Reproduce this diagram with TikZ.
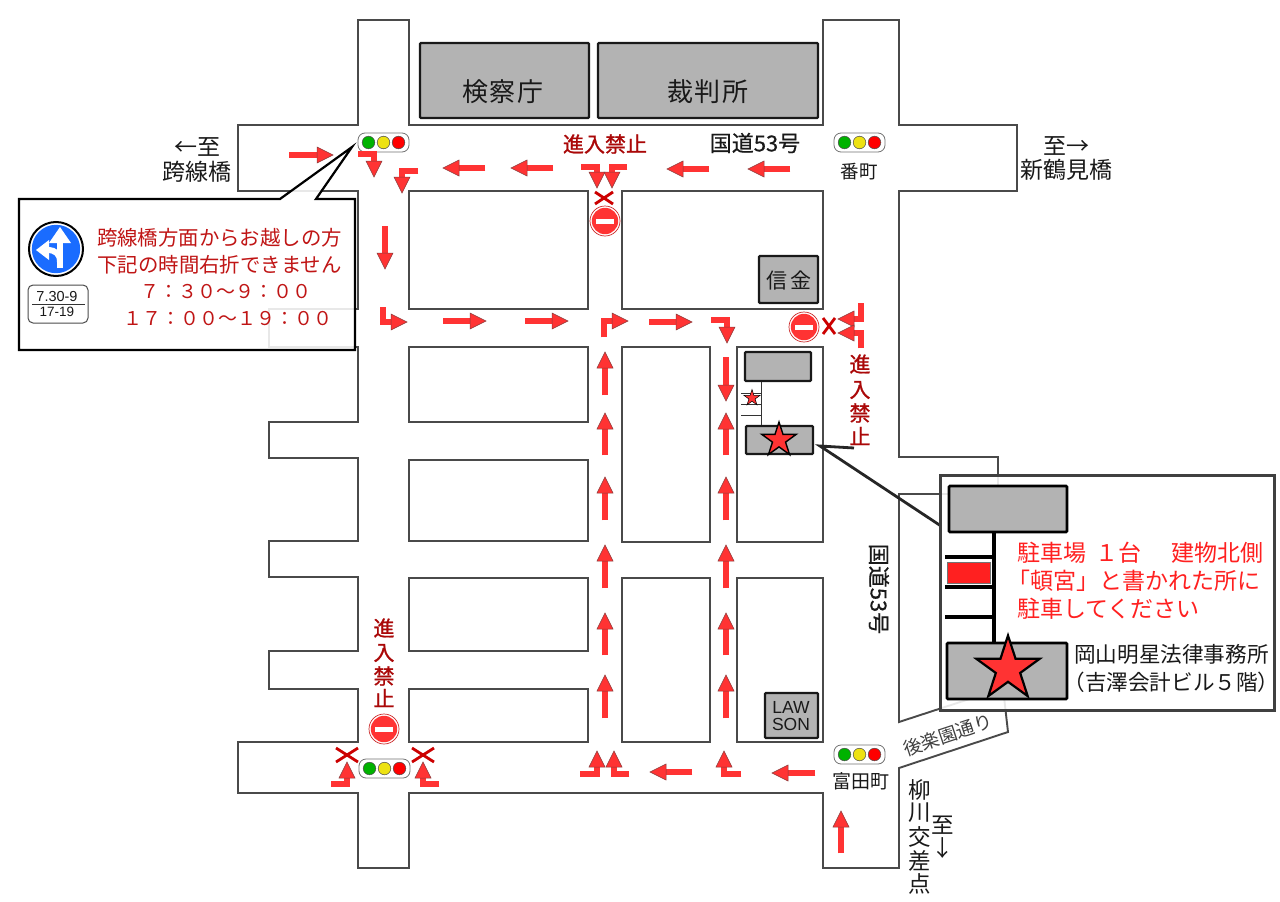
\documentclass[tikz,border=0pt]{standalone}
\usepackage{fontspec}
\setmainfont{Noto Sans CJK JP}
\newfontfamily\latinf{Liberation Sans}
\newfontfamily\medf[FakeBold=0.5]{Noto Sans CJK JP}
\newfontfamily\semif[FakeBold=1.1]{Noto Sans CJK JP}
\usetikzlibrary{shapes.geometric}
\definecolor{roadline}{HTML}{4A4A4A}
\definecolor{bldg}{HTML}{B3B3B3}
\definecolor{arrowred}{HTML}{FF3333}
\definecolor{arrowedge}{HTML}{8A3A3A}
\definecolor{darkred}{HTML}{AA0808}
\definecolor{crossred}{HTML}{CC0000}
\definecolor{noteRed}{HTML}{C01515}
\definecolor{brightred}{HTML}{FF2020}
\definecolor{signblue}{HTML}{1A6CFF}
\newcommand\fs[1]{\fontsize{#1}{#1}\selectfont}
\tikzset{
  road/.style={draw=roadline,line width=1.9,fill=white,line join=miter},
  block/.style={draw=roadline,line width=1.9,fill=white},
  building/.style={draw=black!90,line width=2.2,fill=bldg,rounded corners=1},
  shaftst/.style={draw=arrowedge,double=arrowred,double distance=5.6,line width=.5,line join=miter},
  headst/.style={draw=arrowedge,fill=arrowred,line width=.5,line join=miter},
  lab/.style={inner sep=0,outer sep=0,text=black!90,align=center},
  redlab/.style={inner sep=0,outer sep=0,text=darkred,font=\semif\fs{21}},
  notelab/.style={inner sep=0,outer sep=0,text=noteRed,font=\fs{20.4}},
  notenum/.style={inner sep=0,outer sep=0,text=noteRed,font=\fs{19}},
  parklab/.style={inner sep=0,outer sep=0,text=brightred,font=\fs{23},anchor=west},
  xmark/.style={draw=crossred,line width=2.8},
  starmark/.style={star,star points=5,star point ratio=2.618,draw=black,fill=arrowred,inner sep=0,line join=miter},
  lamp/.style={draw=black!70,line width=.5},
  panel/.style={fill=white,fill opacity=.88,line join=miter}
}
% shaft path, tip x,y, angle
\newcommand\arw[3]{\draw[shaftst] #1;\draw[headst,shift={(#2)},rotate=#3] (0,0)--(-16,8)--(-16,-8)--cycle;}
\newcommand\lights[2]{%
  \begin{scope}[shift={(#1,#2)}]
    \draw[draw=black!55,line width=.8,fill=white,rounded corners=7] (-25.5,-9.5) rectangle (25.5,9.5);
    \filldraw[fill=green!70!black,lamp] (-15,0) circle (6.3);
    \filldraw[fill=yellow!92!black,lamp] (0,0) circle (6.3);
    \filldraw[fill=red,lamp] (15,0) circle (6.3);
  \end{scope}}
\newcommand\noentry[2]{%
  \begin{scope}[shift={(#1,#2)}]
    \draw[draw=arrowred!80!black,line width=.7,fill=white] (0,0) circle (15);
    \fill[arrowred] (0,0) circle (13.2);
    \fill[white] (-9,-2.5) rectangle (9,2.5);
  \end{scope}}
\newcommand\crossx[4]{\draw[xmark] (#1-#3,#2-#4)--(#1+#3,#2+#4) (#1-#3,#2+#4)--(#1+#3,#2-#4);}
\begin{document}
\begin{tikzpicture}[x=1pt,y=-1pt]
\useasboundingbox (0,0) rectangle (1280,902);
\fill[white] (0,0) rectangle (1280,902);
% roads
\draw[road] (358,20)--(409,20)--(409,125)--(823,125)--(823,20)--(899,20)--(899,125)--(1017,125)--(1017,191)--(899,191)--(899,457)--(998,457)--(998,494)--(899,494)--(899,722)--(1003,688)--(1008,732)--(899,768)--(899,868)--(823,868)--(823,793)--(409,793)--(409,868)--(358,868)--(358,793)--(238,793)--(238,742)--(358,742)--(358,689)--(269,689)--(269,651)--(358,651)--(358,577)--(269,577)--(269,541)--(358,541)--(358,458)--(269,458)--(269,422)--(358,422)--(358,347)--(269,347)--(269,309)--(358,309)--(358,191)--(238,191)--(238,125)--(358,125)--cycle;
% blocks
\foreach \xa/\ya/\xb/\yb in {409/191/588/309,622/191/823/309,409/347/588/422,622/347/710/542,737/347/823/542,409/460/588/541,409/578/588/651,409/689/588/742,622/578/710/742,737/578/823/742}
  \draw[block] (\xa,\ya) rectangle (\xb,\yb);
% buildings
\draw[building] (420,43) rectangle (589,118);
\draw[building] (598,43) rectangle (818,118);
\draw[building] (759,256) rectangle (818,303);
\draw[building] (745,352) rectangle (811,381);
\draw[building] (746,426) rectangle (813,454);
\draw[building] (765,693) rectangle (818,738);
\node[lab,font=\fs{26}] (kensatsu) at (503,92) {検\hspace{2pt}察\hspace{2pt}庁};
\node[lab,font=\fs{26}] (saiban) at (708,92) {裁\hspace{2pt}判\hspace{2pt}所};
\node[lab,font=\fs{21}] (shinkin) at (789,281) {信\hspace{4pt}金};
\node[lab,font=\latinf\fs{17.5},align=center] (lawson) at (791,716) {LAW\\[-.5pt]SON};
% small parking sketch
\draw[black!80,line width=1] (761,382)--(761,425) (741,393)--(761,393) (741,404)--(761,404) (741,415)--(761,415);
\node[starmark,minimum size=17,line width=.5] (smallstar) at (752,398) {};
\node[starmark,minimum size=36,line width=1.4] (bigstar) at (779,440) {};
% leader
\coordinate (leadA) at (854,448);
\coordinate (leadB) at (820,446);
\coordinate (leadC) at (941,526);
\draw[black!85,line width=2.8] (leadA)--(leadB)--(leadC);
% traffic lights
\lights{383.5}{142.5}
\lights{859.5}{142.5}
\lights{384.5}{768.5}
\lights{859.5}{754.5}
% arrows
\arw{(289,155)--(317,155)}{333,155}{0}
\arw{(358,154)--(374,154)--(374,162)}{374,177}{-90}
\arw{(418,171)--(402,171)--(402,178)}{402,193}{-90}
\arw{(385,226)--(385,253)}{385,269}{-90}
\arw{(383,307)--(383,322)--(391,322)}{407,322}{0}
\arw{(443,321)--(470,321)}{486,321}{0}
\arw{(525,321)--(552,321)}{568,321}{0}
\arw{(604,337)--(604,321)--(612,321)}{628,321}{0}
\arw{(649,322)--(676,322)}{692,322}{0}
\arw{(711,320)--(727,320)--(727,328)}{727,343}{-90}
\arw{(726,357)--(726,385)}{726,401}{-90}
\arw{(581,167)--(597,167)--(597,173)}{597,188}{-90}
\arw{(627,167)--(612,167)--(612,173)}{612,188}{-90}
\arw{(709,169)--(683,169)}{667,169}{180}
\arw{(790,169)--(764,169)}{748,169}{180}
\arw{(485,168)--(459,168)}{443,168}{180}
\arw{(553,168)--(527,168)}{511,168}{180}
\arw{(861,303)--(861,319)--(853,319)}{838,319}{180}
\arw{(861,348)--(861,333)--(853,333)}{838,333}{180}
\foreach \tp/\bt in {352/395,413/455,477/520,545/588,613/655,675/718}{
  \arw{(605,\bt)--(605,\tp+16)}{605,\tp}{90}}
\foreach \tp/\bt in {413/455,477/520,545/588,613/655,675/718}{
  \arw{(726,\bt)--(726,\tp+16)}{726,\tp}{90}}
\arw{(580,774)--(597,774)--(597,766)}{597,751}{90}
\arw{(629,774)--(614,774)--(614,766)}{614,751}{90}
\arw{(692,772)--(666,772)}{650,772}{180}
\arw{(741,774)--(724,774)--(724,766)}{724,751}{90}
\arw{(815,773)--(788,773)}{772,773}{180}
\arw{(841,853)--(841,827)}{841,811}{90}
\arw{(331,784)--(347,784)--(347,777)}{347,762}{90}
\arw{(439,784)--(423,784)--(423,777)}{423,762}{90}
% crosses and no entry signs
\crossx{347}{755}{11}{7}
\crossx{423}{755}{11}{7}
\crossx{604}{198}{9}{6}
\crossx{829}{326}{6}{8}
\noentry{384}{729}
\noentry{605}{221}
\noentry{804}{327}
% road labels
\node[lab,font=\medf\fs{22}] (n53a) at (755,143) {国道53号};
\node[redlab] (nogo1) at (605,144) {進入禁止};
\node[lab,font=\fs{18.5}] (bancho) at (859,172) {番町};
\node[lab,font=\fs{19}] (tomita) at (861,781) {富田町};
\node[lab,font=\fs{23}] (itaruL) at (197,147) {←至};
\node[lab,font=\fs{23}] (kosen) at (197,172) {跨線橋};
\node[lab,font=\fs{23}] (itaruR) at (1066,146) {至→};
\node[lab,font=\fs{23}] (shintsu) at (1066,170) {新鶴見橋};
\node[lab,font=\medf\fs{22},rotate=-90] (n53b) at (879,589) {国道53号};
\node[lab,font=\fs{18.5},rotate=18.3,text=black!75] (koraku) at (948,735) {後楽園通り};
\node[lab,font=\fs{22.5}] (yn1) at (920,790) {柳};
\node[lab,font=\fs{22.5}] (yn2) at (920,813) {川};
\node[lab,font=\fs{22.5}] (yn3) at (920,837) {交};
\node[lab,font=\fs{22.5}] (yn4) at (920,861) {差};
\node[lab,font=\fs{22.5}] (yn5) at (920,884) {点};
\node[lab,font=\fs{22.5}] (it1) at (943,825) {至};
\node[lab,font=\fs{22.5}] (it2) at (943,848) {↓};
\node[redlab] (r1) at (860,364) {進};
\node[redlab] (r2) at (860,390) {入};
\node[redlab] (r3) at (860,413) {禁};
\node[redlab] (r4) at (860,436) {止};
\node[redlab] (l1) at (384,628) {進};
\node[redlab] (l2) at (384,653) {入};
\node[redlab] (l3) at (384,676) {禁};
\node[redlab] (l4) at (384,698) {止};
% callout 1
\coordinate (tipA) at (352,147);
\draw[panel,draw=black,line width=2.2] (19,199)--(280,199)--(tipA)--(316,199)--(355,199)--(355,350)--(19,350)--cycle;
\draw[draw=black,line width=2,fill=white] (56,249) circle (27);
\fill[signblue] (56,249) circle (24.2);
\draw[white,line width=6.5] (60,268)--(60,241);
\fill[white] (60,227)--(71,243)--(49,243)--cycle;
\draw[white,line width=6] (60,262) .. controls (60,254) and (56,250) .. (47,250);
\fill[white] (36,250)--(49,240)--(49,260)--cycle;
\draw[draw=black!70,line width=1,fill=white,rounded corners=5] (28,285) rectangle (88,323);
\draw[black!80,line width=.8] (32,304)--(85,304);
\node[lab,font=\latinf\fs{14.5}] (plate1) at (57,297) {7.30-9};
\node[lab,font=\latinf\fs{13.5}] (plate2) at (57,312) {17-19};
\node[notelab] (note1) at (219.5,238) {跨線橋方面からお越しの方};
\node[notelab] (note2) at (219.5,265) {下記の時間右折できません};
\node[notenum] (note3) at (226,292) {７：３０～９：００};
\node[notenum] (note4) at (227.5,319) {１７：００～１９：００};
% callout 2
\draw[panel,draw=black!75,line width=3] (940,475) rectangle (1274,710);
\draw[building,draw=black,line width=2.8] (949,486) rectangle (1067,532);
\draw[black,line width=3.4] (994,532)--(994,643) (945,557)--(994,557) (945,587)--(994,587) (945,617)--(994,617);
\draw[draw=black!55,line width=.8,fill=brightred] (947,562) rectangle (990,583);
\draw[building,draw=black,line width=2.8] (947,643) rectangle (1067,699);
\node[starmark,minimum size=67,line width=2.2] (panelstar) at (1008,669) {};
\node[parklab] (park1) at (1017,553) {駐車場\hspace{.4em}１台\hspace{1.3em}建物北側};
\node[parklab] (park2) at (1007,581) {「頓宮」と書かれた所に};
\node[parklab] (park3) at (1017,609) {駐車してください};
\node[lab,font=\fs{21.6}] (office1) at (1171.5,654) {岡山明星法律事務所};
\node[lab,font=\fs{21.6}] (office2) at (1171.5,682) {（吉澤会計ビル５階）};
\end{tikzpicture}
\end{document}
